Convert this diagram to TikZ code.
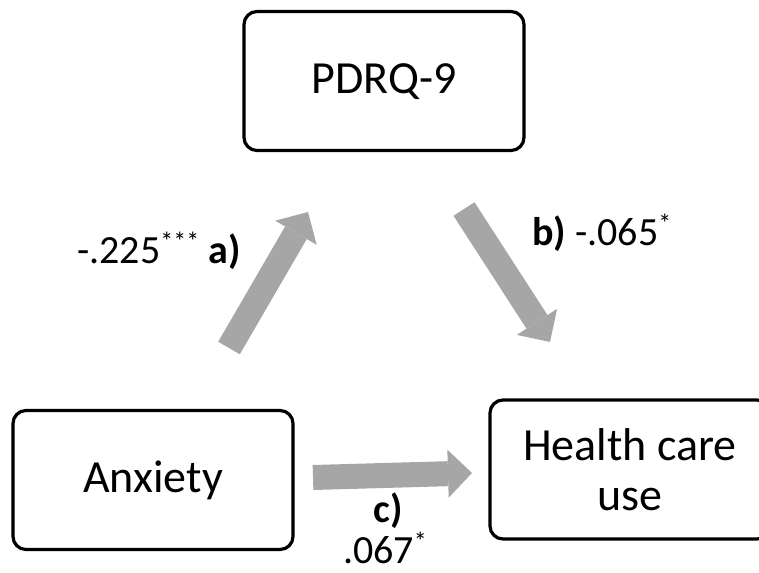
\documentclass[tikz,border=0pt]{standalone}
\usepackage{fontspec}
\setmainfont{Carlito}
\usetikzlibrary{arrows.meta}
\definecolor{arrowgray}{RGB}{166,166,166}
\newcommand{\supstar}[1]{\raisebox{13pt}{\fontsize{26}{26}\selectfont #1}}
\begin{document}
\begin{tikzpicture}[x=1pt,y=-1pt,
  varbox/.style={draw=black, line width=3.2pt, rounded corners=13pt, minimum width=280pt, minimum height=139pt, inner sep=0pt, text height=25pt, text depth=0pt, font=\fontsize{46}{50}\selectfont},
  blockarrow/.style={draw=arrowgray, line width=25pt, -{Triangle[length=24pt,width=48pt,line width=0pt]}},
  lab/.style={font=\fontsize{40}{48}\selectfont, inner sep=0pt}]
\useasboundingbox (0,0) rectangle (759,572);
\clip (0,0) rectangle (759,572);
% boxes
\node[varbox] (pdrq) at (384,81) {PDRQ-9};
\node[varbox] (anx) at (153,480) {Anxiety};
\node[draw=black, line width=3.2pt, rounded corners=13pt, minimum width=280pt, minimum height=139pt, inner sep=0pt] (hcu) at (630,469.5) {};
\node[font=\fontsize{46}{50}\selectfont, align=center, inner sep=0pt] (hcutext) at (hcu.center) {Health care\\use};
% arrows
\coordinate (aS) at (229,348);
\coordinate (aE) at (308,212);
\coordinate (bS) at (464,209);
\coordinate (bE) at (550,342);
\coordinate (cS) at (313,477.5);
\coordinate (cE) at (472,473);
\draw[blockarrow] (aS) -- (aE);
\draw[blockarrow] (bS) -- (bE);
\draw[blockarrow] (cS) -- (cE);
% labels
\node[lab, anchor=base west] (la) at (77,263) {-.225\supstar{***} \textbf{a)}};
\node[lab, anchor=base west] (lb) at (532,245) {\textbf{b)} -.065\supstar{*}};
\node[lab, anchor=base] (lc) at (388,522) {\textbf{c)}};
\node[lab, anchor=base] (lc2) at (385,563) {.067\supstar{*}};
\end{tikzpicture}
\end{document}
